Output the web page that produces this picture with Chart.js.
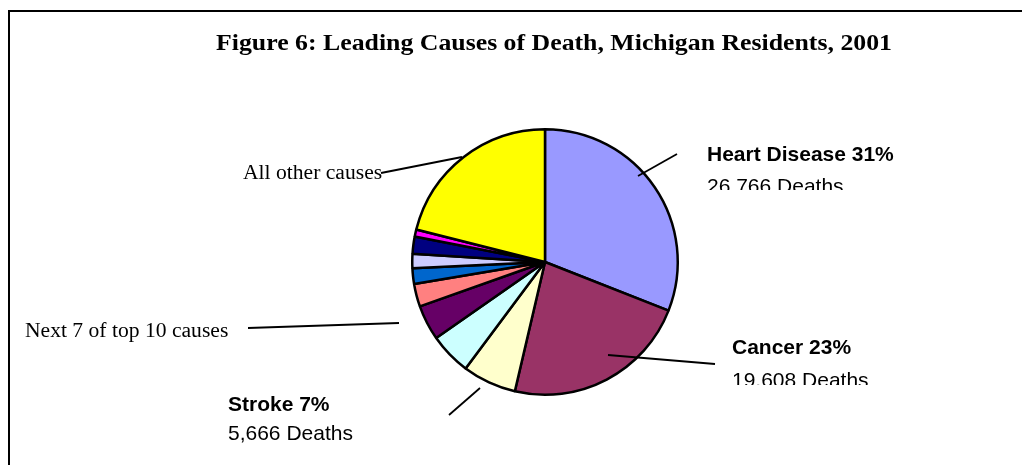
<!DOCTYPE html>
<html><head><meta charset="utf-8">
<script src="https://cdn.jsdelivr.net/npm/chart.js@4/dist/chart.umd.min.js"></script>
<style>html,body{margin:0;padding:0;background:#fff}#wrap{width:1022px;height:465px;position:relative}</style>
</head><body><div id="wrap"><canvas id="c" width="1022" height="465"></canvas></div>
<script>
const title = "Figure 6: Leading Causes of Death, Michigan Residents, 2001";
const categories = ["Heart Disease","Cancer","Stroke","Chronic Lower Respiratory Disease","Unintentional Injuries","Diabetes","Pneumonia/Influenza","Alzheimer's Disease","Kidney Disease","Suicide","All other causes"];
const deaths = [26766,19608,5666,4400,3700,2400,1650,1500,1800,750,18200];
const colors = ["#9999FF","#993366","#FFFFCC","#CCFFFF","#660066","#FF8080","#0066CC","#CCCCFF","#000080","#FF00FF","#FFFF00"];

const total = deaths.reduce((a,b)=>a+b,0);
const pct = i => Math.round(deaths[i]/total*100);
const fmt = n => n.toLocaleString('en-US');

const annot = {
  id:'annot',
  afterDraw(chart){
    const ctx = chart.ctx;
    const arc = chart.getDatasetMeta(0).data[0];
    const cx = arc.x, cy = arc.y;
    ctx.save();
    ctx.strokeStyle = '#000';
    // frame
    ctx.lineWidth = 2;
    ctx.beginPath();
    ctx.moveTo(9, 465); ctx.lineTo(9, 11); ctx.lineTo(1022, 11);
    ctx.stroke();
    // title (slightly condensed vertically like the reference)
    ctx.fillStyle = '#000';
    ctx.textBaseline = 'alphabetic';
    ctx.textAlign = 'center';
    ctx.save();
    ctx.translate(554, 50);
    ctx.scale(1, 0.9);
    ctx.font = 'bold 25.8px "Liberation Serif", "Times New Roman", serif';
    ctx.fillText(title, 0, 0);
    ctx.restore();
    ctx.textAlign = 'left';
    // leader lines
    ctx.lineWidth = 1.8;
    const seg = (x1,y1,x2,y2)=>{ctx.beginPath();ctx.moveTo(cx+x1,cy+y1);ctx.lineTo(cx+x2,cy+y2);ctx.stroke();};
    seg(93,-86,132,-108);     // heart
    seg(63,93,170,102);       // cancer
    seg(-65,126,-96,153);     // stroke
    seg(-297,66,-146,61);     // next 7
    seg(-164,-89,-83,-105);   // all other
    // labels
    const sans = '"Liberation Sans", Arial, sans-serif';
    const serif = '"Liberation Serif", "Times New Roman", serif';
    function twoLine(name, i, x, y1, y2, clipY){
      ctx.font = 'bold 21px ' + sans;
      ctx.fillText(name + ' ' + pct(i) + '%', x, y1);
      ctx.save();
      if (clipY){ ctx.beginPath(); ctx.rect(0,0,1022,clipY); ctx.clip(); }
      ctx.font = '21px ' + sans;
      ctx.fillText(fmt(deaths[i]) + ' Deaths', x, y2);
      ctx.restore();
    }
    twoLine(categories[0], 0, 707, 161, 193, 190);
    twoLine(categories[1], 1, 732, 354, 387, 385);
    twoLine(categories[2], 2, 228, 411, 440, null);
    ctx.font = '21.6px ' + serif;
    ctx.fillText(categories[10], 243, 179);
    ctx.fillText('Next 7 of top 10 causes', 25, 337);
    ctx.restore();
  }
};

new Chart(document.getElementById('c'), {
  type: 'pie',
  data: { labels: categories, datasets: [{ data: deaths, backgroundColor: colors, borderColor: '#000', borderWidth: 2.5 }] },
  options: {
    responsive: false, animation: false, devicePixelRatio: 1,
    layout: { padding: { left: 411, right: 343, top: 128, bottom: 69 } },
    plugins: { legend: { display: false }, tooltip: { enabled: false }, title: { display: false } }
  },
  plugins: [annot]
});
</script></body></html>
